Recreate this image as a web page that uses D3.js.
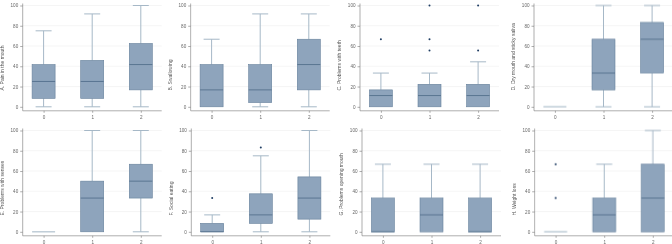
<!DOCTYPE html>
<html lang="en">
<head>
  <meta charset="UTF-8">
  <title>Box plots by group</title>
  <script src="https://d3js.org/d3.v7.min.js"></script>
  <style>
    body { margin: 0; background: #fff; }
    svg { display: block; font-family: "Liberation Sans", Arial, sans-serif; }
    .tick text { fill: #666; font-size: 4.6px; }
    .domain, .tick line { stroke: #777; stroke-width: 0.6; }
    .ylabel { fill: #555; font-size: 5px; }
  </style>
</head>
<body>
  <svg id="chart" width="672" height="244">
    <defs>
      <filter id="grey"><feColorMatrix type="saturate" values="0"/></filter>
    </defs>
  </svg>

  <script>
    // groups on the x axis
    const groups = ["0", "1", "2"];
    const yTicks = [0, 20, 40, 60, 80, 100];

    const panelTitles = [
      "A. Pain in the mouth",
      "B. Swallowing",
      "C. Problems with teeth",
      "D. Dry mouth and sticky saliva",
      "E. Problems with senses",
      "F. Social eating",
      "G. Problems opening mouth",
      "H. Weight loss"
    ];

    // [whisker low, q1, median, q3, whisker high] per group
    const boxA = [[0, 8.3, 25, 41.7, 75], [0, 8.3, 25, 45.8, 91.7], [0, 16.7, 41.7, 62.5, 100]];
    const boxB = [[0, 0, 16.7, 41.7, 66.7], [0, 4.2, 16.7, 41.7, 91.7], [0, 16.7, 41.7, 66.7, 91.7]];
    const boxC = [[0, 0, 11.1, 16.7, 33.3], [0, 0, 11.1, 22.2, 33.3], [0, 0, 11.1, 22.2, 44.4]];
    const boxD = [[0, 0, 0, 0, 0], [0, 16.7, 33.3, 66.7, 100], [0, 33.3, 66.7, 83.3, 100]];
    const boxE = [[0, 0, 0, 0, 0], [0, 0, 33.3, 50, 100], [0, 33.3, 50, 66.7, 100]];
    const boxF = [[0, 0, 0, 8.3, 16.7], [0, 8.3, 16.7, 37.5, 75], [0, 12.5, 33.3, 54.2, 100]];
    const boxG = [[0, 0, 0, 33.3, 66.7], [0, 0, 16.7, 33.3, 66.7], [0, 0, 0, 33.3, 66.7]];
    const boxH = [[0, 0, 0, 0, 0], [0, 0, 16.7, 33.3, 66.7], [0, 0, 33.3, 66.7, 100]];

    // outside values per group
    const outA = [[], [], []];
    const outB = [[], [], []];
    const outC = [[66.7], [55.6, 66.7, 100], [55.6, 100]];
    const outD = [[], [], []];
    const outE = [[], [], []];
    const outF = [[33.3], [83.3], []];
    const outG = [[], [], []];
    const outH = [[33.3, 66.7], [], []];

    const allBoxes = [boxA, boxB, boxC, boxD, boxE, boxF, boxG, boxH];
    const allOut = [outA, outB, outC, outD, outE, outF, outG, outH];

    // layout
    const panelW = 168, rowPitch = 125;
    const lefts = [22.7, 22.7, 24, 30, 22.7, 23.3, 26, 30.7];
    const plotW = 139, topPad = 5.5, plotH = 101.3;
    const boxW = 23, capW = 16;

    const col = {
      fill: "#8ea4bc",
      edge: "#66809b",
      median: "#4d6987",
      whisker: "#a6b8c7",
      flat: "#b6c6d1",
      dot: "#1f3d63",
      grid: "#eeeeee"
    };

    const svg = d3.select("#chart");

    panelTitles.forEach((title, i) => {
      const c = i % 4, r = Math.floor(i / 4);
      const left = lefts[i];
      const g = svg.append("g")
        .attr("transform", `translate(${c * panelW + left},${r * rowPitch + topPad})`);

      const x = d3.scalePoint().domain(groups).range([0, plotW]).padding(0.43);
      const y = d3.scaleLinear().domain([0, 100]).range([plotH, 0]);

      // grid
      g.selectAll(".grid")
        .data(yTicks.filter(t => t > 0))
        .enter().append("line")
        .attr("x1", 0).attr("x2", plotW)
        .attr("y1", d => y(d)).attr("y2", d => y(d))
        .attr("stroke", col.grid).attr("stroke-width", 0.6);

      // axes + label, rendered greyscale
      const ag = g.append("g").attr("filter", "url(#grey)");

      ag.append("g")
        .call(d3.axisLeft(y).tickValues(yTicks).tickSize(2.5).tickPadding(2))
        .call(a => a.select(".domain").attr("d", `M0,${y(100) - 2}V${plotH + 4}`));

      ag.append("g")
        .attr("transform", `translate(0,${plotH + 4})`)
        .call(d3.axisBottom(x).tickSize(2).tickPadding(2.5))
        .call(a => a.select(".domain").attr("d", `M0,0H${plotW}`));

      ag.append("text")
        .attr("class", "ylabel")
        .attr("transform", `translate(${-20.5},${85}) rotate(-90)`)
        .attr("dy", "0.35em")
        .text(title);

      const boxes = allBoxes[i];
      const outs = allOut[i];

      groups.forEach((grp, k) => {
        const [lo, q1, med, q3, hi] = boxes[k];
        const cx = x(grp);
        const bg = g.append("g");

        if (lo === hi) {
          bg.append("line")
            .attr("x1", cx - boxW / 2).attr("x2", cx + boxW / 2)
            .attr("y1", y(lo)).attr("y2", y(lo))
            .attr("stroke", col.flat).attr("stroke-width", 1.3);
        } else {
          // whiskers
          if (hi > q3) {
            bg.append("line").attr("x1", cx).attr("x2", cx)
              .attr("y1", y(q3)).attr("y2", y(hi))
              .attr("stroke", col.whisker).attr("stroke-width", 1);
            bg.append("line").attr("x1", cx - capW / 2).attr("x2", cx + capW / 2)
              .attr("y1", y(hi)).attr("y2", y(hi))
              .attr("stroke", col.whisker).attr("stroke-width", 1);
          }
          if (lo < q1) {
            bg.append("line").attr("x1", cx).attr("x2", cx)
              .attr("y1", y(q1)).attr("y2", y(lo))
              .attr("stroke", col.whisker).attr("stroke-width", 1);
            bg.append("line").attr("x1", cx - capW / 2).attr("x2", cx + capW / 2)
              .attr("y1", y(lo)).attr("y2", y(lo))
              .attr("stroke", col.whisker).attr("stroke-width", 1);
          }
          bg.append("rect")
            .attr("x", cx - boxW / 2).attr("width", boxW)
            .attr("y", y(q3)).attr("height", y(q1) - y(q3))
            .attr("fill", col.fill).attr("stroke", col.edge).attr("stroke-width", 0.6);
          bg.append("line")
            .attr("x1", cx - boxW / 2).attr("x2", cx + boxW / 2)
            .attr("y1", y(med)).attr("y2", y(med))
            .attr("stroke", col.median).attr("stroke-width", 0.8);
        }

        bg.selectAll("circle")
          .data(outs[k])
          .enter().append("circle")
          .attr("cx", cx).attr("cy", d => y(d)).attr("r", 1)
          .attr("fill", col.dot);
      });
    });
  </script>
</body>
</html>
